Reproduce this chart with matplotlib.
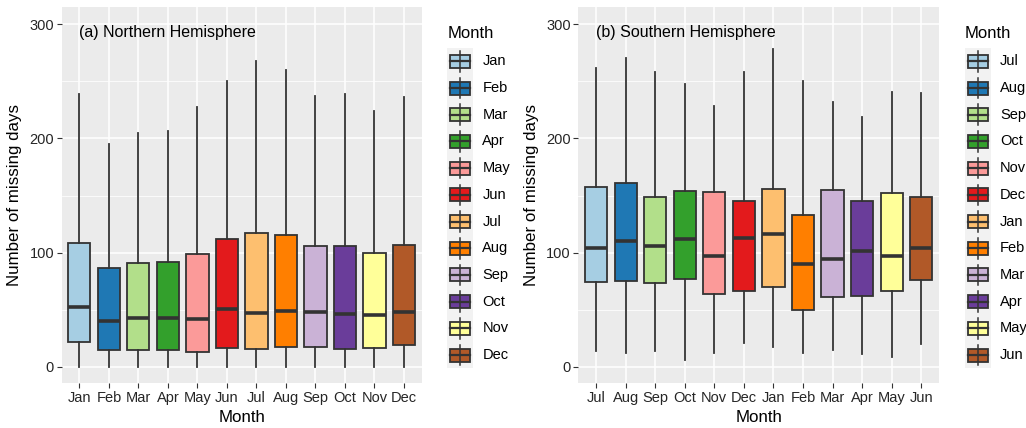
import matplotlib.pyplot as plt
from matplotlib.patches import Rectangle

plt.rcParams['font.family'] = ['Liberation Sans', 'DejaVu Sans']

# Northern Hemisphere (Jan..Dec)
nh_months = ['Jan', 'Feb', 'Mar', 'Apr', 'May', 'Jun', 'Jul', 'Aug', 'Sep', 'Oct', 'Nov', 'Dec']
nh_lo = [0, 0, 0, 0, 0, 0, 0, 0, 0, 0, 0, 0]
nh_q1 = [21.9, 14.6, 14.6, 14.6, 12.9, 16.7, 15.8, 17.5, 17.5, 15.8, 16.7, 18.7]
nh_med = [52.0, 39.7, 42.9, 42.9, 41.5, 50.8, 46.7, 48.8, 47.6, 45.9, 45.0, 47.6]
nh_q3 = [108.7, 86.8, 90.6, 91.7, 98.5, 111.9, 116.9, 115.7, 105.8, 105.8, 99.9, 106.6]
nh_hi = [238.7, 194.9, 204.8, 206.8, 227.9, 250.0, 267.9, 260.0, 236.9, 238.7, 224.1, 236.0]

# Southern Hemisphere (Jul..Jun)
sh_months = ['Jul', 'Aug', 'Sep', 'Oct', 'Nov', 'Dec', 'Jan', 'Feb', 'Mar', 'Apr', 'May', 'Jun']
sh_lo = [14.0, 11.7, 14.0, 5.8, 11.7, 21.0, 17.5, 12.3, 14.6, 11.1, 8.8, 19.9]
sh_q1 = [74.2, 75.1, 73.6, 76.5, 64.0, 66.6, 69.5, 49.7, 60.8, 61.9, 66.0, 76.0]
sh_med = [104.0, 110.1, 105.8, 112.2, 97.0, 112.5, 116.3, 90.3, 94.1, 101.4, 96.7, 104.3]
sh_q3 = [157.2, 161.3, 149.0, 153.7, 153.1, 144.9, 156.0, 132.9, 154.5, 145.5, 152.2, 149.0]
sh_hi = [261.5, 270.8, 258.3, 248.0, 228.7, 258.3, 278.7, 250.0, 232.0, 219.1, 241.0, 239.8]

colors = ['#A6CEE3', '#1F78B4', '#B2DF8A', '#33A02C', '#FB9A99', '#E31A1C',
          '#FDBF6F', '#FF7F00', '#CAB2D6', '#6A3D9A', '#FFFF99', '#B15928']

EDGE = '#333333'
W, H = 1026, 428
fig = plt.figure(figsize=(W / 100, H / 100), dpi=100)


def px_axes(x0, y0, x1, y1):
    return fig.add_axes([x0 / W, 1 - y1 / H, (x1 - x0) / W, (y1 - y0) / H])


def draw_panel(ax, months, lo, q1, med, q3, hi, title):
    stats = [dict(whislo=a, q1=b, med=c, q3=d, whishi=e, fliers=[])
             for a, b, c, d, e in zip(lo, q1, med, q3, hi)]
    bp = ax.bxp(stats, positions=range(1, 13), widths=0.75, patch_artist=True,
                showcaps=False, showfliers=False,
                boxprops=dict(edgecolor=EDGE, linewidth=1.3),
                medianprops=dict(color=EDGE, linewidth=2.6, solid_capstyle='butt'),
                whiskerprops=dict(color=EDGE, linewidth=1.3))
    for patch, c in zip(bp['boxes'], colors):
        patch.set_facecolor(c)
    ax.set_facecolor('#EBEBEB')
    ax.set_xlim(0.4, 12.6)
    ax.set_ylim(-14.5, 315.4)
    ax.set_yticks([0, 100, 200, 300])
    ax.set_yticks([50, 150, 250], minor=True)
    ax.set_xticks(range(1, 13))
    ax.set_xticklabels(months)
    ax.grid(which='major', color='white', linewidth=1.1)
    ax.grid(which='minor', axis='y', color='white', linewidth=0.55)
    ax.set_axisbelow(True)
    for s in ax.spines.values():
        s.set_visible(False)
    ax.tick_params(which='major', length=3.5, width=0.8, color=EDGE,
                   labelsize=10.5, labelcolor='#262626', pad=2)
    ax.tick_params(which='minor', length=0)
    ax.set_xlabel('Month', fontsize=12.2, labelpad=4)
    ax.set_ylabel('Number of missing days', fontsize=12.2, labelpad=5)
    ax.text(1, 293, title, fontsize=11.5, ha='left', va='center')


def draw_legend(x0, labels):
    ax = px_axes(x0, 20, x0 + 75, 380)
    ax.set_xlim(0, 75)
    ax.set_ylim(360, 0)
    ax.axis('off')
    top, row = 28, 26.7
    ax.text(0, 13, 'Month', fontsize=12, ha='left', va='center')
    ax.add_patch(Rectangle((0, top), 26, row * len(labels), facecolor='#F2F2F2', edgecolor='none'))
    for i, (lab, c) in enumerate(zip(labels, colors)):
        yc = top + row * (i + 0.5)
        ax.plot([13, 13], [yc - row / 2 + 3, yc + row / 2 - 3], color=EDGE, lw=1.1)
        ax.add_patch(Rectangle((3, yc - 6.5), 20, 13, facecolor=c, edgecolor=EDGE, lw=1.3))
        ax.plot([3, 23], [yc, yc], color=EDGE, lw=1.6)
        ax.text(35, yc, lab, fontsize=10.5, ha='left', va='center')


ax1 = px_axes(61.7, 6.7, 421.7, 383.3)
draw_panel(ax1, nh_months, nh_lo, nh_q1, nh_med, nh_q3, nh_hi, '(a) Northern Hemisphere')
draw_legend(447.3, nh_months)

ax2 = px_axes(578.3, 6.7, 939.0, 383.3)
draw_panel(ax2, sh_months, sh_lo, sh_q1, sh_med, sh_q3, sh_hi, '(b) Southern Hemisphere')
draw_legend(965.0, sh_months)

fig.savefig('out.png', dpi=100)
